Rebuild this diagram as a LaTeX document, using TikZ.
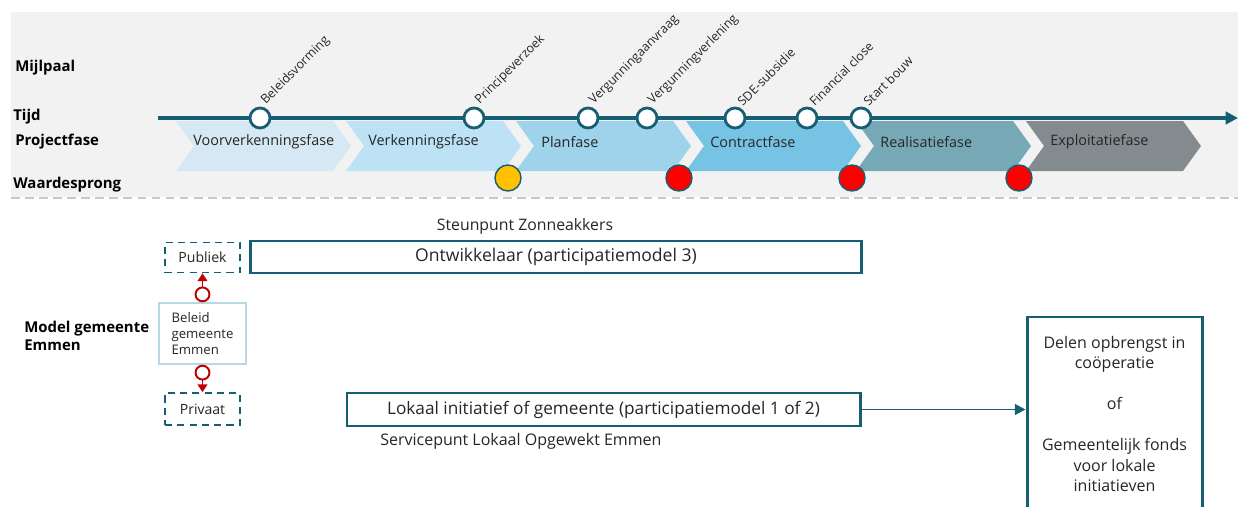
\documentclass[tikz,border=0pt]{standalone}
\usepackage{fontspec}
\setmainfont{Open Sans}
\usetikzlibrary{arrows.meta,positioning}

\definecolor{tijdteal}{RGB}{22,94,115}
\definecolor{achtergrond}{RGB}{242,242,242}
\definecolor{streep}{RGB}{200,200,200}
\definecolor{tekstgrijs}{RGB}{38,38,38}
\definecolor{faseA}{RGB}{214,232,243}
\definecolor{faseB}{RGB}{189,225,245}
\definecolor{faseC}{RGB}{158,211,235}
\definecolor{faseD}{RGB}{119,195,228}
\definecolor{faseE}{RGB}{119,168,181}
\definecolor{faseF}{RGB}{132,139,142}
\definecolor{sprongoranje}{RGB}{255,192,0}
\definecolor{sprongrood}{RGB}{255,0,0}
\definecolor{pijlrood}{RGB}{192,0,0}
\definecolor{beleidrand}{RGB}{183,215,228}

\newdimen\pxu
\pxu=0.02cm

\begin{document}
\begin{tikzpicture}[x=0.02cm,y=-0.02cm,
	rij_label/.style={anchor=west,inner sep=0pt,font=\fontsize{8.5}{10}\selectfont\bfseries},
	fase_text/.style={anchor=west,inner sep=0pt,text=tekstgrijs,font=\fontsize{8.2}{10}\selectfont},
	mijlpaal_node/.style={circle,draw=tijdteal,fill=white,line width=1.6pt,minimum size=20\pxu,inner sep=0pt},
	mijlpaal_label/.style={rotate=45,anchor=south west,inner sep=1pt,text=tekstgrijs,font=\fontsize{7.1}{8}\selectfont},
	sprong_node/.style={circle,draw=tijdteal,line width=0.8pt,minimum size=26\pxu,inner sep=0pt},
	model_box/.style={draw=tijdteal,line width=1.7pt,text=tekstgrijs,inner sep=0pt},
	sector_box/.style={draw=tijdteal,line width=0.9pt,dash pattern=on 4pt off 3pt,minimum width=75\pxu,inner sep=0pt,text=tekstgrijs,font=\fontsize{8}{10}\selectfont},
	plain_text/.style={inner sep=0pt,text=tekstgrijs,font=\fontsize{9}{10}\selectfont},
	beleid_link/.style={draw=pijlrood,line width=1.1pt,{Circle[fill=white,length=9pt]}-{Triangle[length=4.5pt,width=5.5pt]}}]

	% achtergrond en grenslijn
	\clip (0,0) rectangle (1238,507);
	\fill[white] (0,0) rectangle (1238,507);
	\fill[achtergrond] (11,12) rectangle (1238,197);
	\draw[streep,line width=0.7pt,dash pattern=on 5pt off 3pt] (11,198) -- (1238,198);

	% rijlabels
	\node[rij_label] (mijlpaal) at (15,68) {Mijlpaal};
	\node[rij_label] (tijd) at (13,117) {Tijd};
	\node[rij_label] (projectfase) at (15,142) {Projectfase};
	\node[rij_label] (waardesprong) at (13,185) {Waardesprong};

	% projectfasen
	\fill[faseA] (176,121) -- (333,121) -- (351,146) -- (333,171) -- (176,171) -- (194,146) -- cycle;
	\fill[faseB] (346,121) -- (503,121) -- (521,146) -- (503,171) -- (346,171) -- (364,146) -- cycle;
	\fill[faseC] (516,121) -- (673,121) -- (691,146) -- (673,171) -- (516,171) -- (534,146) -- cycle;
	\fill[faseD] (686,121) -- (843,121) -- (861,146) -- (843,171) -- (686,171) -- (704,146) -- cycle;
	\fill[faseE] (856,121) -- (1013,121) -- (1031,146) -- (1013,171) -- (856,171) -- (874,146) -- cycle;
	\fill[faseF] (1026,121) -- (1183,121) -- (1201,146) -- (1183,171) -- (1026,171) -- (1044,146) -- cycle;

	\node[fase_text] (f1) at (193,142) {Voorverkenningsfase};
	\node[fase_text] (f2) at (368,142) {Verkenningsfase};
	\node[fase_text] (f3) at (541,142) {Planfase};
	\node[fase_text] (f4) at (710,142) {Contractfase};
	\node[fase_text] (f5) at (880,142) {Realisatiefase};
	\node[fase_text] (f6) at (1050,142) {Exploitatiefase};

	% tijdlijn
	\coordinate (tijd_start) at (158,118);
	\coordinate (tijd_eind) at (1238,118);
	\draw[tijdteal,line width=2.2pt,-{Triangle[length=7pt,width=7pt]}] (tijd_start) -- (tijd_eind);

	% mijlpalen
	\node[mijlpaal_node] (m1) at (260,118) {};
	\node[mijlpaal_node] (m2) at (474,118) {};
	\node[mijlpaal_node] (m3) at (588,118) {};
	\node[mijlpaal_node] (m4) at (647,118) {};
	\node[mijlpaal_node] (m5) at (735,118) {};
	\node[mijlpaal_node] (m6) at (807,118) {};
	\node[mijlpaal_node] (m7) at (861,118) {};

	\node[mijlpaal_label] (l1) at (m1.north east) {Beleidsvorming};
	\node[mijlpaal_label] (l2) at (m2.north east) {Principeverzoek};
	\node[mijlpaal_label] (l3) at (m3.north east) {Vergunningaanvraag};
	\node[mijlpaal_label] (l4) at (m4.north east) {Vergunningverlening};
	\node[mijlpaal_label] (l5) at (m5.north east) {SDE-subsidie};
	\node[mijlpaal_label] (l6) at (m6.north east) {Financial close};
	\node[mijlpaal_label] (l7) at (m7.north east) {Start bouw};

	% waardesprongen
	\node[sprong_node,fill=sprongoranje] (w1) at (508,178) {};
	\node[sprong_node,fill=sprongrood] (w2) at (679,178) {};
	\node[sprong_node,fill=sprongrood] (w3) at (852,178) {};
	\node[sprong_node,fill=sprongrood] (w4) at (1019,178) {};

	% model gemeente Emmen
	\node[rij_label,align=left] (model) at (24,336) {Model gemeente\\Emmen};

	\node[sector_box,minimum height=30\pxu] (publiek) at (202.5,257.5) {Publiek};
	\node[sector_box,minimum height=32\pxu] (privaat) at (202.5,409) {Privaat};
	\node[draw=beleidrand,line width=0.8pt,minimum width=87\pxu,minimum height=61\pxu,inner sep=0pt,align=left,text=tekstgrijs,font=\fontsize{7.5}{9}\selectfont] (beleid) at (202.5,333.5) {Beleid\\gemeente\\Emmen};

	\draw[beleid_link] (beleid) -- (publiek);
	\draw[beleid_link] (beleid) -- (privaat);

	\node[plain_text] (steunpunt) at (525,226) {Steunpunt Zonneakkers};
	\node[model_box,minimum width=611\pxu,minimum height=32\pxu,font=\fontsize{10}{11}\selectfont] (ontwikkelaar) at (556,257) {Ontwikkelaar (participatiemodel 3)};

	\node[model_box,minimum width=513\pxu,minimum height=33\pxu,font=\fontsize{9.8}{11}\selectfont] (lokaal) at (603.5,409.5) {Lokaal initiatief of gemeente (participatiemodel 1 of 2)};
	\node[plain_text,anchor=west,font=\fontsize{9.1}{10}\selectfont] (servicepunt) at (380,441) {Servicepunt Lokaal Opgewekt Emmen};

	\node[model_box,minimum width=175\pxu,minimum height=240\pxu] (opbrengst) at (1114.5,437) {};
	\node[plain_text,anchor=north,align=center,font=\fontsize{9.1}{11.7}\selectfont,below=20\pxu of opbrengst.north] (opbrengst_tekst) {Delen opbrengst in\\coöperatie\\[11.7pt]of\\[11.7pt]Gemeentelijk fonds\\voor lokale\\initiatieven};

	\draw[tijdteal,line width=1.1pt,-{Triangle[length=6pt,width=6pt]}] (lokaal.east) -- (lokaal.east -| opbrengst.west);
\end{tikzpicture}
\end{document}
